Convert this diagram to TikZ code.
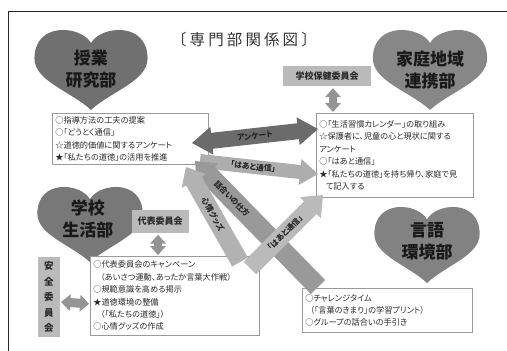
\documentclass[tikz,border=0pt]{standalone}
\usepackage{fontspec}
\setmainfont{Noto Sans CJK JP}[RawFeature=+palt]
\newfontfamily\titlefont{Noto Sans CJK JP}[LetterSpace=20]
\usetikzlibrary{calc}

\definecolor{boxline}{HTML}{9A9A9A}
\definecolor{txt}{HTML}{2A2A2A}

% fat single arrow: style, from, to, shaft half width, head half width, head length
\newcommand\fatsingle[6]{%
  \path ($(#3)!#6!(#2)$) coordinate (hb);
  \fill[#1] ($(#2)!#4!90:(#3)$) -- ($(hb)!#4!90:(#3)$) -- ($(hb)!#5!90:(#3)$) -- (#3)
    -- ($(hb)!#5!-90:(#3)$) -- ($(hb)!#4!-90:(#3)$) -- ($(#2)!#4!-90:(#3)$) -- cycle;
}
% fat double arrow
\newcommand\fatdouble[6]{%
  \path ($(#3)!#6!(#2)$) coordinate (hb);
  \path ($(#2)!#6!(#3)$) coordinate (ha);
  \fill[#1] (#2) -- ($(ha)!#5!90:(#3)$) -- ($(ha)!#4!90:(#3)$) -- ($(hb)!#4!90:(#3)$)
    -- ($(hb)!#5!90:(#3)$) -- (#3) -- ($(hb)!#5!-90:(#3)$) -- ($(hb)!#4!-90:(#3)$)
    -- ($(ha)!#4!-90:(#3)$) -- ($(ha)!#5!-90:(#3)$) -- cycle;
}
% heart: centre x, origin y, xscale, yscale, fill colour
\newcommand\heartshape[5]{%
  \begin{scope}[shift={(#1,#2)}, xscale=#3, yscale=#4]
    \fill[#5] (0,15) .. controls (-10,-2) and (-56,-6) .. (-56,30)
      .. controls (-56,52) and (-20,62) .. (0,80)
      .. controls (20,62) and (56,52) .. (56,30)
      .. controls (56,-6) and (10,-2) .. (0,15) -- cycle;
  \end{scope}
}

\tikzset{
  box/.style={draw=boxline, line width=0.7pt, fill=white, inner sep=3pt,
    align=left, anchor=north west, text=txt,
    font=\fontsize{8.2}{12.4}\selectfont},
  hearttext/.style={align=center, text=black!90,
    font=\fontsize{17}{22}\selectfont\bfseries},
  tag/.style={fill=black!27, text=txt, inner sep=2pt,
    font=\fontsize{9}{11}\selectfont\bfseries},
  arrowlabel/.style={text=black!85, sloped, inner sep=0pt,
    font=\fontsize{7.8}{9}\selectfont\bfseries},
}

\begin{document}
\begin{tikzpicture}[x=1pt, y=-1pt]
\useasboundingbox (0,0) rectangle (507,351);

% frame
\draw[line width=0.9pt, black!85] (8,351) -- (8,11) -- (507,11);

% title
\node[text=black!80, font=\fontsize{15.5}{18}\selectfont\titlefont] (title) at (244,40) {〔専門部関係図〕};

% hearts
\heartshape{91}{27.5}{1.01}{1.03}{black!56}
\node[hearttext] (h1) at (91,69) {授業\\研究部};
\heartshape{430}{27.5}{1.02}{1.03}{black!47}
\node[hearttext] (h2) at (430,70) {家庭地域\\連携部};
\heartshape{90}{184.6}{0.94}{0.97}{black!53}
\node[hearttext] (h3) at (88,219) {学校\\生活部};
\heartshape{427}{204.6}{0.94}{0.98}{black!49}
\node[hearttext] (h4) at (427,241) {言語\\環境部};

% tags
\node[tag, minimum width=88pt, minimum height=20pt] (hoken) at (327,76) {学校保健委員会};
\node[tag, minimum width=57pt, minimum height=23pt] (daihyo) at (160,221) {代表委員会};
\node[tag, minimum width=22pt, minimum height=80pt, align=center,
      font=\fontsize{9.5}{15.5}\selectfont\bfseries] (anzen) at (49,297) {安\\全\\委\\員\\会};

% boxes
\node[box, text width=150pt, minimum height=51pt] (b1) at (52,113) {%
○指導方法の工夫の提案\\
○「どうとく通信」\\
☆道徳的価値に関するアンケート\\
★「私たちの道徳」の活用を推進};

\node[box, text width=151pt, minimum height=84pt] (b2) at (316,113) {%
○「生活習慣カレンダー」の取り組み\\
☆保護者に、児童の心と現状に関する\\
アンケート\\
○「はあと通信」\\
★「私たちの道徳」を持ち帰り、家庭で見\\
\hspace*{0.8em}て記入する};

\node[box, text width=163pt, minimum height=79pt] (b3) at (90,256) {%
○代表委員会のキャンペーン\\
\hspace*{0.9em}（あいさつ運動、あったか言葉大作戦）\\
○規範意識を高める掲示\\
★道徳環境の整備\\
\hspace*{0.9em}（「私たちの道徳」）\\
○心情グッズの作成};

\node[box, text width=164pt, minimum height=44pt] (b4) at (302,288) {%
○チャレンジタイム\\
\hspace*{0.6em}（「言葉のきまり」の学習プリント）\\
○グループの話合いの手引き};

% small double arrows
\coordinate (v1a) at ($(hoken.south)+(6,2)$);
\coordinate (v1b) at ($(b2.north west)+(17,-1)$);
\fatdouble{black!42}{v1a}{v1b}{4pt}{8pt}{9pt}
\coordinate (v2a) at ($(daihyo.south)+(-2,2)$);
\coordinate (v2b) at ($(b3.north west)+(68,-1)$);
\fatdouble{black!42}{v2a}{v2b}{4pt}{8pt}{9pt}
\coordinate (v3a) at ($(anzen.east)+(1,5)$);
\coordinate (v3b) at ($(b3.west)+(-1,8)$);
\fatdouble{black!42}{v3a}{v3b}{4.5pt}{8.5pt}{9pt}

% big arrows between boxes
\coordinate (ank1) at (192,143);
\coordinate (ank2) at (318,129);
\fatdouble{black!58}{ank1}{ank2}{8pt}{14pt}{20pt}
\path (ank1) -- (ank2) node[arrowlabel, pos=0.5] (lank) {アンケート};

\coordinate (hh1) at (200,161);
\coordinate (hh2) at (318,174);
\fatsingle{black!32}{hh1}{hh2}{7pt}{13pt}{18pt}
\path (hh1) -- (hh2) node[arrowlabel, pos=0.45] (lhh) {「はあと通信」};

\coordinate (wa1) at (318,287);
\coordinate (wa2) at (195,161);
\fatsingle{black!40}{wa1}{wa2}{10pt}{15pt}{18pt}
\path (wa2) -- (wa1) node[arrowlabel, pos=0.3] (lwa) {話合いの仕方};

\coordinate (sj1) at (240,262);
\coordinate (sj2) at (186,167);
\fatsingle{black!30}{sj1}{sj2}{9pt}{14pt}{16pt}
\path (sj2) -- (sj1) node[arrowlabel, pos=0.5] (lsj) {心情グッズ};

\coordinate (hd1) at (250,268);
\coordinate (hd2) at (323,195);
\fatsingle{black!27}{hd1}{hd2}{9pt}{15pt}{18pt}
\path (hd1) -- (hd2) node[arrowlabel, pos=0.48] (lhd) {「はあと通信」};

\end{tikzpicture}
\end{document}
